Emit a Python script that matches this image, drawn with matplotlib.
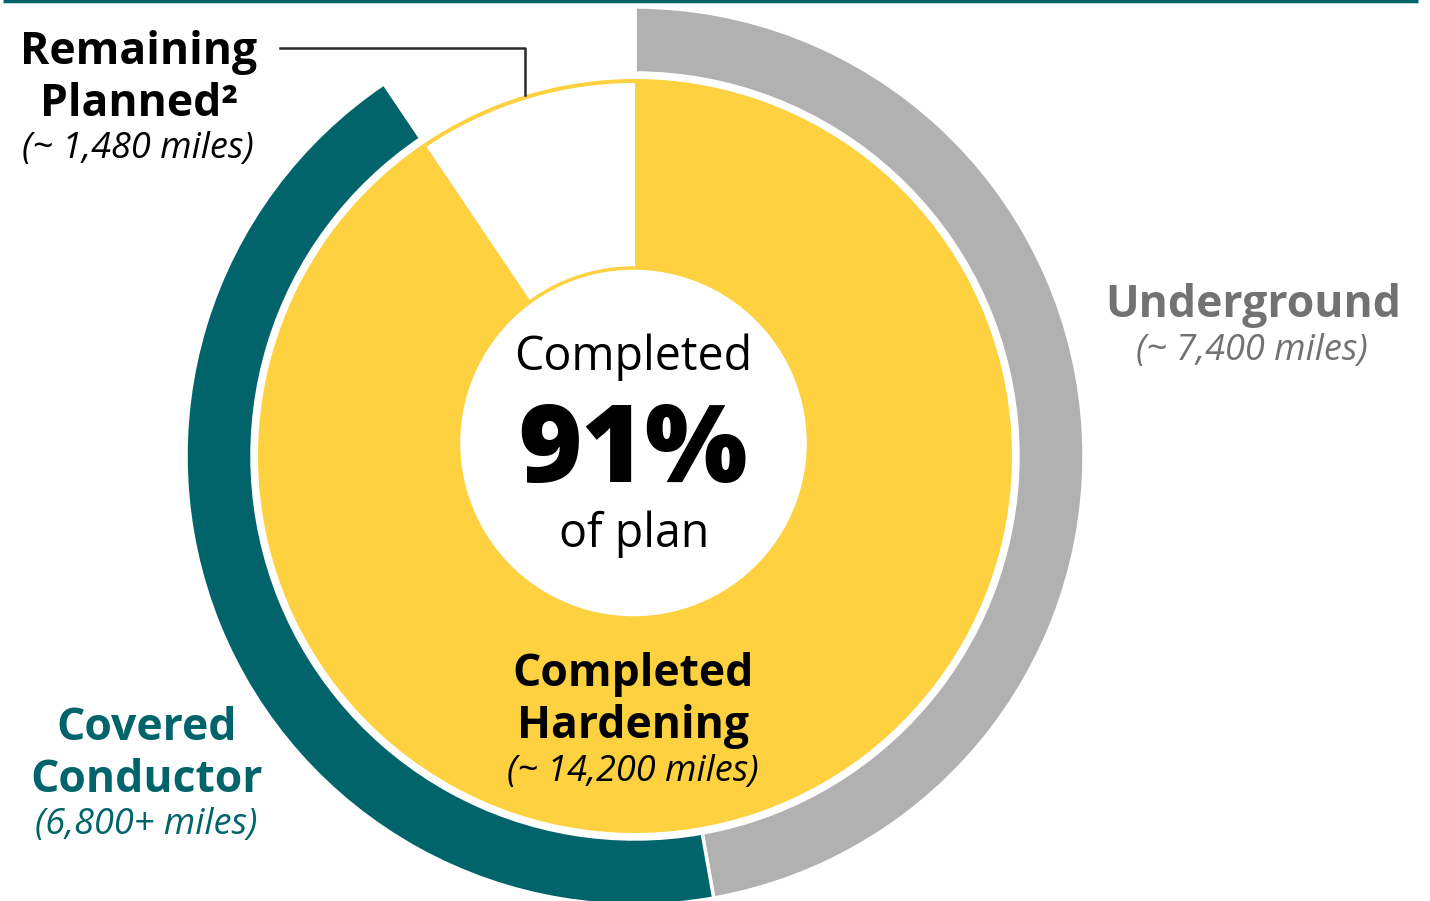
import matplotlib
matplotlib.use("Agg")
import matplotlib.pyplot as plt
from matplotlib.patches import Circle

# ---- data ----
inner_labels = ["Completed Hardening", "Remaining Planned"]
inner_values = [14200, 1480]
outer_labels = ["Underground", "Covered Conductor", "Remaining"]
outer_values = [7400, 6800, 1480]
pct_complete = 91

YELLOW = "#FDD13F"
TEAL = "#00646A"
GRAY = "#B0B1B0"
GRAY_TXT = "#727272"
BLACK = "#000000"

W, H = 1430, 901
fig = plt.figure(figsize=(W / 100, H / 100), dpi=100)
ax = fig.add_axes([0, 0, 1, 1])

def Y(y):  # convert from top-down pixel to axis coords
    return H - y

C = (635, Y(456))

# outer ring
ax.pie(outer_values, colors=[GRAY, TEAL, "none"], radius=449, center=C,
       startangle=90, counterclock=False,
       wedgeprops=dict(width=66, edgecolor="white", linewidth=2.5))

# inner pie (all yellow), then white remaining wedge inset
ax.pie(inner_values, colors=[YELLOW, YELLOW], radius=377, center=C,
       startangle=90, counterclock=False,
       wedgeprops=dict(linewidth=0))
ax.pie(inner_values, colors=["none", "white"], radius=373, center=C,
       startangle=90, counterclock=False,
       wedgeprops=dict(linewidth=0))

# center hole
ax.add_patch(Circle((633.5, Y(443)), 175, facecolor="white",
                    edgecolor=YELLOW, linewidth=2.5, zorder=5))

ax.set_xlim(0, W)
ax.set_ylim(0, H)
ax.set_aspect("equal")
ax.axis("off")

FONT = "Open Sans"

# top rule
ax.plot([3, 1418], [Y(1), Y(1)], color=TEAL, lw=2.5, solid_capstyle="butt", zorder=6)

# leader line
ax.plot([280, 525, 525], [Y(48), Y(48), Y(95)], color="#2b2b2b", lw=1.8, zorder=6)

def txt(x, y, s, size, color=BLACK, weight="bold", style="normal"):
    ax.text(x, Y(y), s, fontsize=size, color=color, fontweight=weight,
            fontstyle=style, family=FONT, ha="center", va="baseline", zorder=7)

B = 32   # bold label size
I = 26   # italic size

# Remaining planned
txt(139, 64, "Remaining", B)
txt(139, 116, "Planned²", B)
txt(138, 158, f"(~ {inner_values[1]:,} miles)", I, weight="normal", style="italic")

# Underground
txt(1253, 317, outer_labels[0], B, color=GRAY_TXT)
txt(1252, 360, f"(~ {outer_values[0]:,} miles)", I, color=GRAY_TXT, weight="normal", style="italic")

# Covered conductor
txt(147, 740, "Covered", B, color=TEAL)
txt(147, 792, "Conductor", B, color=TEAL)
txt(146, 834, f"({outer_values[1]:,}+ miles)", I, color=TEAL, weight="normal", style="italic")

# Completed hardening
txt(633, 686, "Completed", B)
txt(633, 738, "Hardening", B)
txt(633, 781, f"(~ {inner_values[0]:,} miles)", I, weight="normal", style="italic")

# center
txt(633, 370, "Completed", 33.5, weight="normal")
txt(633, 482, f"{pct_complete}%", 78, weight="heavy")
txt(634, 547, "of plan", 33.5, weight="normal")

fig.savefig("out.png", dpi=100)
